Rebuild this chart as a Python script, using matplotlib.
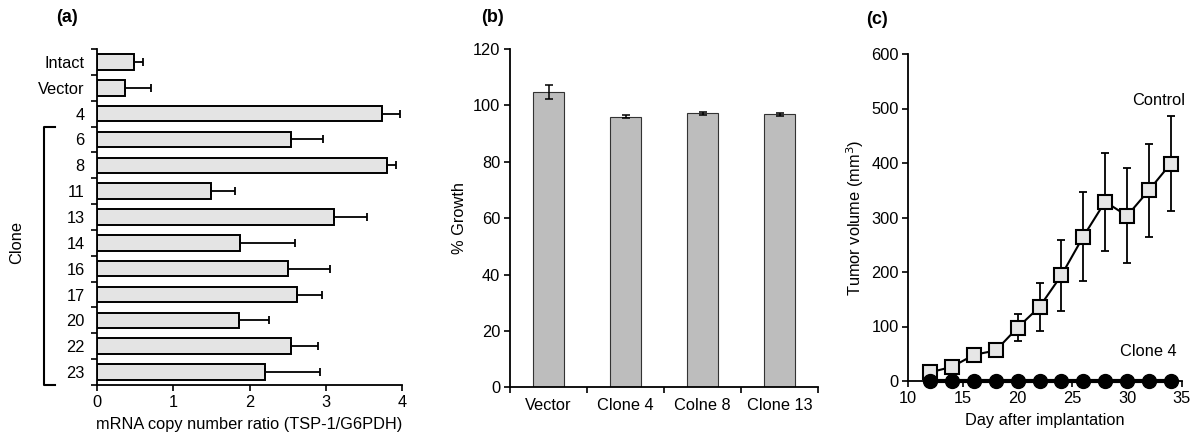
import numpy as np
import matplotlib
matplotlib.use("Agg")
import matplotlib.pyplot as plt
import matplotlib.transforms as mtransforms

plt.rcParams['font.family'] = ['Liberation Sans', 'DejaVu Sans']
plt.rcParams['font.size'] = 11.8

# (a) mRNA copy number ratio
a_labels = ["Intact", "Vector", "4", "6", "8", "11", "13", "14", "16", "17", "20", "22", "23"]
a_values = [0.49, 0.37, 3.74, 2.54, 3.80, 1.50, 3.11, 1.88, 2.51, 2.62, 1.86, 2.55, 2.20]
a_errors = [0.11, 0.34, 0.24, 0.42, 0.12, 0.31, 0.43, 0.72, 0.54, 0.33, 0.39, 0.35, 0.72]

# (b) % growth
b_labels = ["Vector", "Clone 4", "Colne 8", "Clone 13"]
b_values = [104.8, 96.0, 97.2, 96.8]
b_errors = [2.4, 0.5, 0.5, 0.4]

# (c) tumor volume
c_days = [12, 14, 16, 18, 20, 22, 24, 26, 28, 30, 32, 34]
c_control = [16, 26, 48, 56, 98, 136, 194, 265, 329, 303, 350, 399]
c_control_err = [0, 0, 0, 0, 25, 44, 65, 82, 90, 87, 85, 87]
c_clone4 = [0, 0, 0, 0, 0, 0, 0, 0, 0, 0, 0, 0]

fig = plt.figure(figsize=(11.99, 4.37), dpi=100)

def style(ax):
    for s in ["top", "right"]:
        ax.spines[s].set_visible(False)
    for s in ["left", "bottom"]:
        ax.spines[s].set_linewidth(1.3)
    ax.tick_params(direction="out", width=1.2, length=4, colors="black", pad=3)

# ---- panel (a)
ax1 = fig.add_axes([97/1199, 1-385/437, 305/1199, 336/437])
y = np.arange(len(a_labels))
ax1.barh(y, a_values, height=0.6, color="#e4e4e4", edgecolor="black", linewidth=1.4)
ax1.errorbar(a_values, y, xerr=[np.zeros(len(a_errors)), a_errors], fmt="none",
             ecolor="black", elinewidth=1.3, capsize=3, capthick=1.3)
ax1.set_ylim(len(a_labels)-0.5, -0.5)
ax1.set_xlim(0, 4)
ax1.set_xticks([0, 1, 2, 3, 4])
ax1.set_yticks(y)
ax1.set_yticklabels(a_labels)
ax1.set_yticks(np.arange(-0.5, len(a_labels)), minor=True)
style(ax1)
ax1.tick_params(axis="y", which="major", length=0, pad=9)
ax1.tick_params(axis="y", which="minor", direction="out", length=4, width=1.2)
ax1.set_xlabel("mRNA copy number ratio (TSP-1/G6PDH)", labelpad=5)
trans = mtransforms.blended_transform_factory(ax1.transAxes, ax1.transData)
bx = -0.174
ax1.plot([bx + 0.035, bx, bx, bx + 0.035], [2.5, 2.5, 12.5, 12.5], color="black",
         lw=1.5, transform=trans, clip_on=False)
ax1.text(-0.262, 7.0, "Clone", rotation=90, ha="center", va="center", transform=trans)

# ---- panel (b)
ax2 = fig.add_axes([510/1199, 1-387.3/437, 308/1199, 338.3/437])
xb = np.arange(len(b_labels))
ax2.bar(xb, b_values, width=0.41, color="#bdbdbd", edgecolor="#333333", linewidth=0.8)
ax2.errorbar(xb, b_values, yerr=b_errors, fmt="none", ecolor="black",
             elinewidth=1.1, capsize=3, capthick=1.1)
ax2.set_xlim(-0.5, len(b_labels)-0.5)
ax2.set_ylim(0, 120)
ax2.set_yticks(range(0, 121, 20))
ax2.set_xticks(xb)
ax2.set_xticklabels(b_labels)
ax2.set_xticks(np.arange(-0.5, len(b_labels)), minor=True)
style(ax2)
ax2.tick_params(axis="x", which="major", length=0, pad=8)
ax2.tick_params(axis="x", which="minor", direction="out", length=4, width=1.2)
ax2.set_ylabel("% Growth", labelpad=4)

# ---- panel (c)
ax3 = fig.add_axes([908.3/1199, 1-381/437, 273.4/1199, 327/437])
ax3.errorbar(c_days, c_control, yerr=c_control_err, fmt="none", ecolor="black",
             elinewidth=1.3, capsize=3, capthick=1.3, zorder=2)
ax3.plot(c_days, c_control, color="black", lw=1.5, marker="s", markersize=9.5,
         markerfacecolor="#e6e6e6", markeredgecolor="black", markeredgewidth=1.5, zorder=3)
ax3.plot(c_days, c_clone4, color="black", lw=3, marker="o", markersize=10,
         markerfacecolor="black", markeredgecolor="black", zorder=4, clip_on=False)
ax3.set_xlim(10, 35)
ax3.set_ylim(0, 600)
ax3.set_xticks(range(10, 36, 5))
ax3.set_yticks(range(0, 601, 100))
style(ax3)
ax3.set_xlabel("Day after implantation", labelpad=5)
ax3.set_ylabel("Tumor volume (mm$^3$)", labelpad=4)
ax3.text(35.3, 515, "Control", ha="right", va="center")
ax3.text(34.5, 55, "Clone 4", ha="right", va="center")

fig.text(67/1199, 1-18/437, "(a)", fontsize=13, fontweight="bold", ha="center", va="center")
fig.text(493/1199, 1-18/437, "(b)", fontsize=13, fontweight="bold", ha="center", va="center")
fig.text(877/1199, 1-20/437, "(c)", fontsize=13, fontweight="bold", ha="center", va="center")

fig.savefig("out.png", dpi=100)
